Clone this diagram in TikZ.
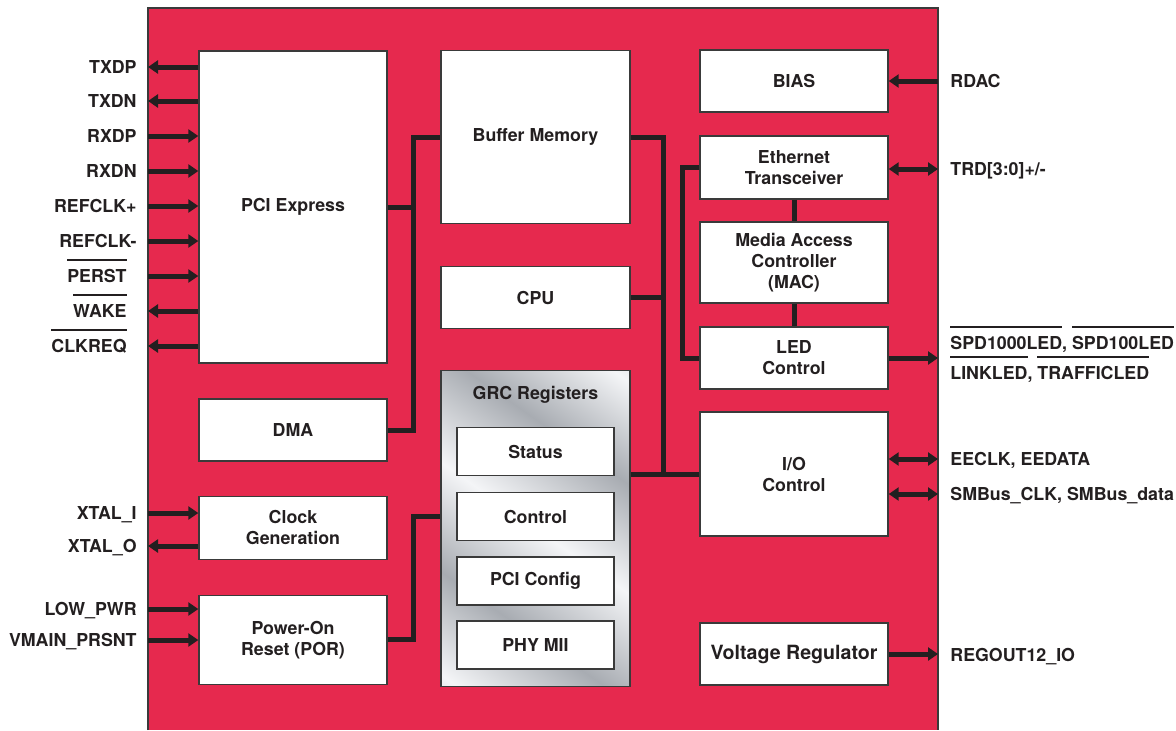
\documentclass[tikz,border=0pt]{standalone}
\usepackage{fontspec}
\setmainfont{TeX Gyre Heros}
\usetikzlibrary{positioning, arrows.meta}
\definecolor{chipred}{HTML}{E6294E}
\definecolor{edge}{HTML}{3A3A3A}
\definecolor{ink}{HTML}{231F20}
\definecolor{metaldk}{HTML}{A8ACB2}
\definecolor{metallt}{HTML}{F4F5F7}
\pgfdeclarehorizontalshading{metal}{100bp}{color(0bp)=(metaldk); color(17bp)=(metallt);
  color(33bp)=(metaldk); color(50bp)=(metallt); color(67bp)=(metaldk);
  color(83bp)=(metallt); color(100bp)=(metaldk)}
% active-low signal names
\newsavebox{\ovlbox}
\newcommand{\ovl}[1]{\sbox{\ovlbox}{#1}\smash{\rlap{\rule[10.75pt]{\wd\ovlbox}{0.85pt}}}\usebox{\ovlbox}}

\begin{document}
\begin{tikzpicture}[
  x=0.5pt, y=-0.5pt,
  font=\bfseries\fontsize{8.9}{10.5}\selectfont, text=ink,
  every node/.style={align=center},
  blk/.style={rectangle, draw=edge, line width=0.7pt, fill=white,
              minimum width=94pt, inner sep=2pt},
  reg/.style={blk, minimum width=78.5pt, minimum height=24pt},
  lbl/.style={text height=6.6pt, text depth=0pt, inner sep=0pt},
  bus/.style={draw=ink, line width=2.5pt},
  sig/.style={draw=ink, line width=2.5pt},
  fwd/.style={sig, -{Triangle[length=5pt, width=6.5pt]}},
  bwd/.style={sig, {Triangle[length=5pt, width=6.5pt]}-},
  bidir/.style={sig, {Triangle[length=5pt, width=6.5pt]}-{Triangle[length=5pt, width=6.5pt]}}
]
  \useasboundingbox (0,0) rectangle (1176,730);

  % the chip
  \fill[chipred] (148,8) rectangle (938,730);
  \draw[edge, line width=1pt] (148,730) -- (148,8) -- (938,8) -- (938,730);
  \coordinate (chipW) at (148,8);
  \coordinate (chipE) at (938,8);

  % left column
  \node[blk, minimum height=156pt] (pcie) at (293,207) {PCI Express};
  \node[blk, minimum height=31pt, below=17.3pt of pcie] (dma) {DMA};
  \node[blk, minimum height=31.5pt, below=17pt of dma] (clkgen) {Clock\\Generation};
  \node[blk, minimum height=44.5pt, below=17.3pt of clkgen] (por) {Power-On\\Reset (POR)};

  % middle column
  \node[blk, minimum width=94.5pt, minimum height=86.5pt] (bufmem) at (535.5,137) {Buffer Memory};
  \node[blk, minimum width=94.5pt, minimum height=31pt, below=20.8pt of bufmem] (cpu) {CPU};
  \node[blk, minimum width=94.5pt, minimum height=158pt, below=20.3pt of cpu,
        shade, shading=metal, shading angle=55] (grc) {};
  \node[lbl, below=8.2pt of grc.north] (grctitle) {GRC Registers};
  \node[reg, below=28.6pt of grc.north] (status) {Status};
  \node[reg, below=7.8pt of status] (control) {Control};
  \node[reg, below=7.4pt of control] (pcicfg) {PCI Config};
  \node[reg, below=7.4pt of pcicfg] (phymii) {PHY MII};

  % right column
  \node[blk, minimum height=31pt] (bias) at (794,81) {BIAS};
  \node[blk, minimum height=31.5pt, below=11.3pt of bias] (ethxcvr) {Ethernet\\Transceiver};
  \node[blk, minimum height=40.5pt, below=10.8pt of ethxcvr] (mac) {Media Access\\Controller\\(MAC)};
  \node[blk, minimum height=31pt, below=11.3pt of mac] (ledctl) {LED\\Control};
  \node[blk, minimum height=62pt, below=10.8pt of ledctl] (ioctl) {I/O\\Control};
  \node[blk, minimum height=31pt, font=\bfseries\fontsize{9.8}{11}\selectfont] (vreg) at (794,654) {Voltage Regulator};

  % internal buses
  \coordinate (lbus) at (413,0);
  \coordinate (rbus) at (663,0);
  \coordinate (ebus) at (682,0);
  \draw[bus] (pcie.east) -- (pcie.east -| lbus);
  \draw[bus] (bufmem.west) -| (lbus |- dma.east) -- (dma.east);
  \draw[bus] (por.east) -| (lbus |- control.west) -- (grc.west |- control.west);
  \draw[bus] (bufmem.east) -| (rbus |- ioctl.west);
  \draw[bus] (cpu.east) -- (cpu.east -| rbus);
  \draw[bus] (grc.east |- ioctl.west) -- (ioctl.west);
  \draw[bus] (ethxcvr.west) -| (ebus |- ledctl.west) -- (ledctl.west);
  \draw[bus] (ethxcvr.south) -- (mac.north);
  \draw[bus] (mac.south) -- (ledctl.north);

  % PCI Express pins
  \foreach \name/\yy/\dir [count=\i] in {TXDP/67/bwd, TXDN/101/bwd, RXDP/136/fwd, RXDN/171/fwd,
      REFCLK+/206/fwd, REFCLK-/241/fwd, \ovl{PERST}\hspace{5pt}/276/fwd,
      \ovl{WAKE}\hspace{5pt}/311/bwd, \ovl{CLKREQ}\hspace{5pt}/346/bwd} {
    \node[lbl, anchor=east] (pp\i) at (137,\yy) {\name};
    \draw[\dir] (chipW |- pp\i.east) -- (pcie.west |- pp\i.east);
  }

  % clock and reset pins
  \node[lbl, anchor=east] (xtali) at (137,513) {XTAL\_I};
  \node[lbl, anchor=east] (xtalo) at (137,546) {XTAL\_O};
  \node[lbl, anchor=east] (lowpwr) at (137,609) {LOW\_PWR};
  \node[lbl, anchor=east] (vmain) at (137,640) {VMAIN\_PRSNT};
  \draw[fwd] (chipW |- xtali.east) -- (clkgen.west |- xtali.east);
  \draw[bwd] (chipW |- xtalo.east) -- (clkgen.west |- xtalo.east);
  \draw[fwd] (chipW |- lowpwr.east) -- (por.west |- lowpwr.east);
  \draw[fwd] (chipW |- vmain.east) -- (por.west |- vmain.east);

  % right-hand pins
  \node[lbl, anchor=west] (rdac) at (950,81) {RDAC};
  \node[lbl, anchor=west] (trd) at (950,169) {TRD[3:0]+/-};
  \node[lbl, anchor=west] (spd) at (950,343) {\ovl{SPD1000LED}, \ovl{SPD100LED}};
  \node[lbl, anchor=west] (link) at (950,373) {\ovl{LINKLED}, \ovl{TRAFFICLED}};
  \node[lbl, anchor=west] (eeclk) at (950,459) {EECLK, EEDATA};
  \node[lbl, anchor=west] (smbus) at (950,494) {SMBus\_CLK, SMBus\_data};
  \node[lbl, anchor=west] (regout) at (950,655) {REGOUT12\_IO};
  \draw[fwd] (chipE |- rdac.west) -- (bias.east |- rdac.west);
  \draw[bidir] (ethxcvr.east |- trd.west) -- (chipE |- trd.west);
  \draw[fwd] (ledctl.east) -- (ledctl.east -| chipE);
  \draw[bidir] (ioctl.east |- eeclk.west) -- (chipE |- eeclk.west);
  \draw[bidir] (ioctl.east |- smbus.west) -- (chipE |- smbus.west);
  \draw[fwd] (vreg.east) -- (vreg.east -| chipE);
\end{tikzpicture}
\end{document}
